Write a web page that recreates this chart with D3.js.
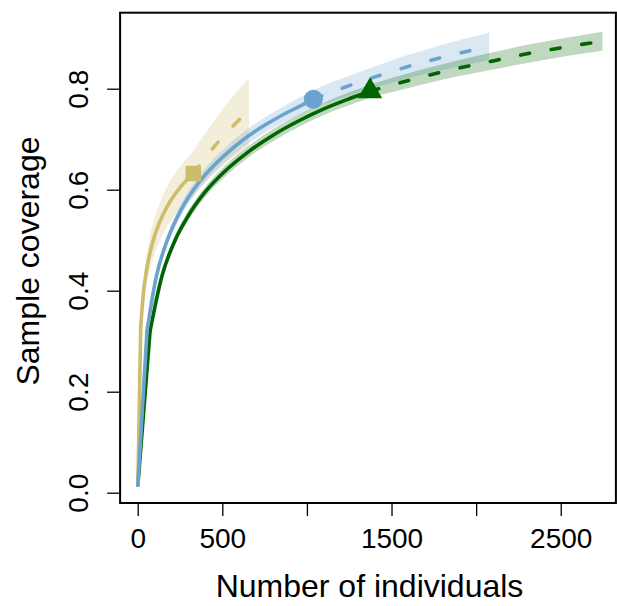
<!DOCTYPE html>
<html>
<head>
<meta charset="utf-8">
<script src="https://cdn.jsdelivr.net/npm/d3@7"></script>
<style>
  html, body { margin: 0; padding: 0; background: #fff; }
  svg { display: block; }
  text { font-family: "Liberation Sans", Arial, Helvetica, sans-serif; fill: #000; }
</style>
</head>
<body>
<svg id="chart" width="617" height="606"></svg>
<script>
// ---- data ----
const xTicks = [0, 500, 1000, 1500, 2000, 2500];
const xTickLabels = ["0", "500", "", "1500", "", "2500"];
const yTicks = [0.0, 0.2, 0.4, 0.6, 0.8];
const yTickLabels = ["0.0", "0.2", "0.4", "0.6", "0.8"];

const assemblages = ["yellow", "blue", "green"];
const colors = ["#CDBC6B", "#6AA3CE", "#006400"];
const shapes = ["square", "circle", "triangle"];
const drawOrder = [2, 0, 1]; // green first, then yellow, blue on top

// yellow assemblage (observed n = 329)
const yellowM  = [1, 18, 35, 53, 87, 130, 180, 250, 329, 400, 480, 560, 658];
const yellowC  = [0.015, 0.33, 0.399, 0.442, 0.494, 0.536, 0.570, 0.604, 0.632, 0.664, 0.696, 0.725, 0.757];
const yellowLo = [0.015, 0.315, 0.374, 0.412, 0.459, 0.499, 0.530, 0.562, 0.587, 0.614, 0.640, 0.663, 0.687];
const yellowHi = [0.015, 0.345, 0.424, 0.472, 0.529, 0.573, 0.610, 0.646, 0.677, 0.713, 0.750, 0.784, 0.821];
const yellowObs = 8;

// blue assemblage (observed n = 1038)
const blueM  = [1, 55, 110, 165, 230, 300, 378, 500, 620, 723, 850, 950, 1038, 1200, 1400, 1600, 1800, 2076];
const blueC  = [0.015, 0.32, 0.428, 0.491, 0.543, 0.585, 0.621, 0.664, 0.698, 0.722, 0.747, 0.764, 0.779, 0.800, 0.823, 0.844, 0.862, 0.884];
const blueLo = [0.015, 0.312, 0.418, 0.480, 0.531, 0.573, 0.608, 0.650, 0.683, 0.707, 0.731, 0.747, 0.761, 0.781, 0.802, 0.821, 0.837, 0.857];
const blueHi = [0.015, 0.328, 0.438, 0.502, 0.555, 0.597, 0.634, 0.678, 0.713, 0.737, 0.763, 0.781, 0.797, 0.819, 0.844, 0.867, 0.887, 0.911];
const blueObs = 12;

// green assemblage (observed n = 1373)
const greenM  = [1, 73, 145, 217, 300, 400, 520, 650, 800, 950, 1100, 1250, 1373, 1500, 1700, 1900, 2100, 2300, 2500, 2746];
const greenC  = [0.015, 0.32, 0.431, 0.497, 0.549, 0.596, 0.638, 0.674, 0.708, 0.736, 0.760, 0.780, 0.795, 0.807, 0.825, 0.841, 0.855, 0.869, 0.881, 0.894];
const greenLo = [0.015, 0.314, 0.423, 0.488, 0.539, 0.586, 0.627, 0.663, 0.696, 0.724, 0.748, 0.767, 0.782, 0.793, 0.810, 0.825, 0.838, 0.851, 0.863, 0.875];
const greenHi = [0.015, 0.326, 0.439, 0.506, 0.559, 0.606, 0.649, 0.685, 0.720, 0.748, 0.772, 0.793, 0.808, 0.821, 0.840, 0.857, 0.872, 0.887, 0.899, 0.913];
const greenObs = 12;

// ---- build series ----
function build(M, C, Lo, Hi, obs) {
  return { obs, pts: M.map((m, i) => ({ m, c: C[i], lo: Lo[i], hi: Hi[i] })) };
}
const series = [
  build(yellowM, yellowC, yellowLo, yellowHi, yellowObs),
  build(blueM, blueC, blueLo, blueHi, blueObs),
  build(greenM, greenC, greenLo, greenHi, greenObs)
];

// ---- layout ----
const svg = d3.select("#chart");
const box = { left: 120.1, right: 615.9, top: 12.7, bottom: 503 };

const x = d3.scaleLinear().domain([-104, 2826]).range([box.left, box.right]);
const y = d3.scaleLinear().domain([-0.0204, 0.9505]).range([box.bottom, box.top]);

const area = d3.area().x(d => x(d.m)).y0(d => y(d.lo)).y1(d => y(d.hi)).curve(d3.curveMonotoneX);
const lineSmooth = d3.line().x(d => x(d.m)).y(d => y(d.c)).curve(d3.curveMonotoneX);
const lineStraight = d3.line().x(d => x(d.m)).y(d => y(d.c));

// bands
series.forEach((s, k) => {
  svg.append("path").attr("d", area(s.pts))
    .attr("fill", colors[k]).attr("fill-opacity", 0.25).attr("stroke", "none");
});

// lines
const lw = 3.6;
drawOrder.forEach(k => {
  const s = series[k];
  const p = s.pts, obs = s.obs;
  const g = svg.append("g").attr("fill", "none").attr("stroke", colors[k]).attr("stroke-width", lw)
    .attr("stroke-linecap", "round").attr("stroke-linejoin", "round");
  g.append("path").attr("d", lineStraight(p.slice(0, 2)));
  g.append("path").attr("d", lineSmooth(p.slice(1, obs + 1)));
  g.append("path").attr("d", lineSmooth(p.slice(obs))).attr("stroke-dasharray", "9,22");
});

// observed points
drawOrder.forEach(k => {
  const s = series[k];
  const d = s.pts[s.obs];
  const cx = x(d.m), cy = y(d.c);
  if (shapes[k] === "circle") {
    svg.append("circle").attr("cx", cx).attr("cy", cy).attr("r", 9.5).attr("fill", colors[k]);
  } else if (shapes[k] === "square") {
    const h = 7.8;
    svg.append("rect").attr("x", cx - h).attr("y", cy - h).attr("width", 2 * h).attr("height", 2 * h).attr("fill", colors[k]);
  } else {
    const r = 14;
    const pts = [[cx, cy - r], [cx + r * Math.sqrt(3) / 2, cy + r / 2], [cx - r * Math.sqrt(3) / 2, cy + r / 2]];
    svg.append("polygon").attr("points", pts.map(q => q.join(",")).join(" ")).attr("fill", colors[k]);
  }
});

// axes
const xAxis = svg.append("g").attr("transform", `translate(0,${box.bottom})`)
  .call(d3.axisBottom(x).tickValues(xTicks).tickFormat((d, i) => xTickLabels[i]).tickSize(13).tickSizeOuter(0));
xAxis.select(".domain").remove();
xAxis.selectAll(".tick line").attr("stroke", "#000").attr("stroke-width", 1.3);
xAxis.selectAll(".tick text").attr("y", 45).attr("dy", 0)
  .style("font-size", "28px").attr("fill", "#000");

const yAxis = svg.append("g").attr("transform", `translate(${box.left},0)`)
  .call(d3.axisLeft(y).tickValues(yTicks).tickFormat((d, i) => yTickLabels[i]).tickSize(13).tickSizeOuter(0));
yAxis.select(".domain").remove();
yAxis.selectAll(".tick line").attr("stroke", "#000").attr("stroke-width", 1.3);
yAxis.selectAll(".tick text")
  .attr("x", null).attr("dy", null)
  .attr("text-anchor", "middle")
  .attr("transform", "translate(-32,0) rotate(-90)")
  .style("font-size", "28px").attr("fill", "#000");

// box
svg.append("rect").attr("x", box.left).attr("y", box.top)
  .attr("width", box.right - box.left).attr("height", box.bottom - box.top)
  .attr("fill", "none").attr("stroke", "#000").attr("stroke-width", 2);

// axis titles
svg.append("text").attr("x", 369.5).attr("y", 597)
  .attr("text-anchor", "middle").style("font-size", "32px").text("Number of individuals");
svg.append("text").attr("transform", `translate(39,261) rotate(-90)`)
  .attr("text-anchor", "middle").style("font-size", "32px").text("Sample coverage");
</script>
</body>
</html>
